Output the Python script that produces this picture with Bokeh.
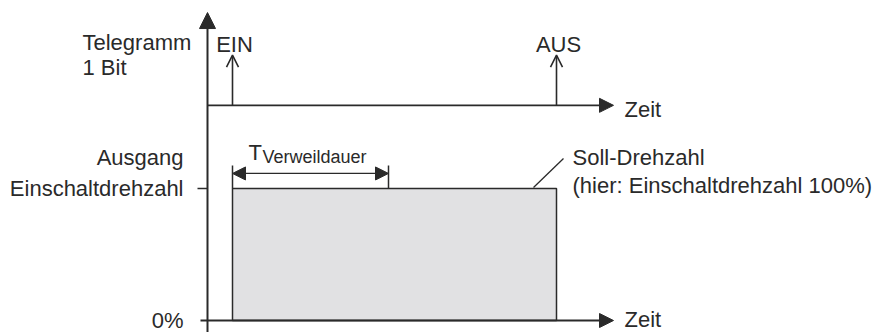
from bokeh.plotting import figure
from bokeh.models import Range1d, Arrow, NormalHead, OpenHead
from bokeh.core.properties import value
from bokeh.embed import file_html
from bokeh.resources import INLINE

# ---- diagram values (time units from the axis origin, output level in %) ----
events = ["EIN", "AUS"]
event_time = [25, 349]
time_axis_end = 406
verweil_start, verweil_end = 25, 181
level_labels = ["0%", "Einschaltdrehzahl"]
level_values = [0, 100]
tele_lane = 163          # baseline of the telegram lane
tele_pulse_top = 201     # height of the telegram pulse arrows
y_axis_top = 233.3
verweil_level = 111.4    # height of the dimension line
verweil_tick_top = 117.4

INK = "#2a2a2a"
FONT = value("Liberation Sans")
FS = "22px"

p = figure(width=877, height=332, output_backend="svg", toolbar_location=None,
           x_range=Range1d(-207, 670), y_range=Range1d(-9.0909, 242.4242),
           x_axis_type=None, y_axis_type=None, min_border=0)
p.outline_line_color = None
p.grid.visible = False
p.background_fill_color = "white"
p.border_fill_color = "white"

# output area (gray block between EIN and AUS)
p.quad(left=[event_time[0]], right=[event_time[1]], bottom=[level_values[0]],
       top=[level_values[1]], fill_color="#e1e1e3", line_color=INK, line_width=1.5)

# vertical axis
p.add_layout(Arrow(end=NormalHead(size=16, fill_color=INK, line_color=INK, line_width=1),
                   x_start=0, y_start=-12, x_end=0, y_end=y_axis_top,
                   line_color=INK, line_width=2))
# telegram time axis
p.add_layout(Arrow(end=NormalHead(size=14, fill_color=INK, line_color=INK, line_width=1),
                   x_start=0, y_start=tele_lane, x_end=time_axis_end, y_end=tele_lane,
                   line_color=INK, line_width=1.8))
# output time axis
p.add_layout(Arrow(end=NormalHead(size=14, fill_color=INK, line_color=INK, line_width=1),
                   x_start=-7, y_start=level_values[0], x_end=time_axis_end, y_end=level_values[0],
                   line_color=INK, line_width=2.2))
# telegram pulses
for t in event_time:
    p.add_layout(Arrow(end=OpenHead(size=12, line_color=INK, line_width=1.6),
                       x_start=t, y_start=tele_lane, x_end=t, y_end=tele_pulse_top,
                       line_color=INK, line_width=1.6))
p.text(x=[t + 2 for t in event_time], y=[209.1, 209.1], text=events, text_font=FONT,
       text_font_size=FS, text_align="center", text_baseline="alphabetic", text_color=INK)

# Einschaltdrehzahl tick
p.segment(x0=[-10], y0=[level_values[1]], x1=[0], y1=[level_values[1]], line_color=INK, line_width=1.5)

# Verweildauer dimension
p.segment(x0=[verweil_start, verweil_end], y0=[level_values[1]] * 2,
          x1=[verweil_start, verweil_end], y1=[verweil_tick_top] * 2,
          line_color=INK, line_width=1.5)
p.add_layout(Arrow(start=NormalHead(size=13, fill_color=INK, line_color=INK, line_width=1),
                   end=NormalHead(size=13, fill_color=INK, line_color=INK, line_width=1),
                   x_start=verweil_start, y_start=verweil_level, x_end=verweil_end, y_end=verweil_level,
                   line_color=INK, line_width=1.3))
p.text(x=[41], y=[127.3], text=["T"], text_font=FONT, text_font_size=FS,
       text_baseline="alphabetic", text_color=INK)
p.text(x=[55], y=[123.5], text=["Verweildauer"], text_font=FONT, text_font_size="18px",
       text_baseline="alphabetic", text_color=INK)

# leader line to Soll-Drehzahl
p.segment(x0=[326], y0=[100.8], x1=[356], y1=[122.7], line_color=INK, line_width=1.3)
p.text(x=[365, 365], y=[123.5, 102.3],
       text=["Soll-Drehzahl", "(hier: Einschaltdrehzahl 100%)"],
       text_font=FONT, text_font_size=FS, text_baseline="alphabetic", text_color=INK)

# left labels
p.text(x=[-125, -125], y=[210.6, 191.7], text=["Telegramm", "1 Bit"], text_font=FONT,
       text_font_size=FS, text_baseline="alphabetic", text_color=INK)
p.text(x=[-24, -24, -24], y=[123.5, 100.0, 0.0],
       text=["Ausgang", level_labels[1], level_labels[0]], text_font=FONT,
       text_font_size=FS, text_align="right", text_baseline="alphabetic", text_color=INK)

# Zeit labels
p.text(x=[417, 417], y=[159.8, 0.5], text=["Zeit", "Zeit"], text_font=FONT,
       text_font_size=FS, text_baseline="alphabetic", text_color=INK)

open("out.html", "w").write(file_html(p, INLINE))
